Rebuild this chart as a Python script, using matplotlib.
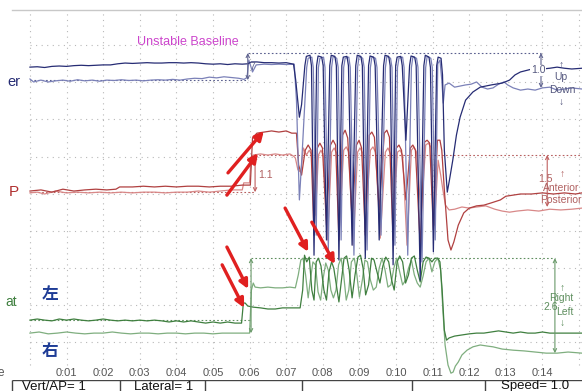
import numpy as np
import matplotlib.pyplot as plt

plt.rcParams['font.family'] = ['Liberation Sans', 'Noto Sans CJK SC', 'DejaVu Sans']

# time in seconds, amplitude in tenths of a grid division
blue_dark = [
    (0.0, 74.1), (0.2, 74.2), (0.4, 74.0), (0.6, 74.3), (0.8, 74.4), (1.0, 74.3), (1.2, 74.5),
    (1.4, 74.6), (1.6, 74.5), (1.8, 74.6), (2.0, 74.7), (2.2, 74.7), (2.4, 75.0), (2.6, 75.2),
    (2.8, 75.1), (3.0, 75.2), (3.2, 75.3), (3.4, 75.2), (3.6, 75.2), (3.8, 75.3), (4.0, 75.3),
    (4.2, 75.2), (4.4, 75.3), (4.6, 75.2), (4.8, 75.0), (5.0, 74.9), (5.2, 75.0), (5.4, 74.8),
    (5.6, 75.0), (5.8, 74.9), (5.95, 75.0), (6.05, 75.5), (6.2, 75.5), (6.4, 75.3), (6.6, 75.3),
    (6.8, 75.2), (7.0, 75.3), (7.2, 74.9),
    (7.26, 70.6), (7.36, 60.6), (7.42, 64.0), (7.51, 74.5), (7.55, 77.0), (7.65, 77.3),
    (7.69, 74.5), (7.76, 23.4), (7.83, 74.5), (7.87, 77.1), (7.97, 76.8), (8.01, 74.5),
    (8.10, 27.5), (8.19, 74.5), (8.23, 77.3), (8.33, 77.0), (8.37, 74.5), (8.44, 22.1),
    (8.52, 74.5), (8.56, 76.8), (8.66, 77.0), (8.70, 74.5), (8.80, 26.1), (8.90, 74.5),
    (8.94, 77.3), (9.04, 77.0), (9.08, 74.5), (9.16, 22.6), (9.25, 74.5), (9.29, 77.1),
    (9.39, 76.8), (9.43, 74.5), (9.54, 27.5), (9.66, 74.5), (9.70, 77.3), (9.80, 77.0),
    (9.84, 74.5), (9.92, 20.8), (9.99, 74.5), (10.03, 76.8), (10.13, 77.0), (10.17, 74.5),
    (10.27, 54.4), (10.37, 74.5), (10.41, 77.1), (10.51, 76.8), (10.55, 74.5), (10.66, 16.7),
    (10.76, 74.5), (10.80, 77.3), (10.90, 76.8), (10.94, 74.0), (11.02, 24.3), (11.11, 74.5),
    (11.15, 76.8), (11.23, 76.5), (11.27, 72.0), (11.32, 51.7), (11.40, 40.4),
    (11.46, 43.7), (11.55, 49.0), (11.65, 55.8), (11.75, 60.6), (11.90, 65.2), (12.10, 67.4),
    (12.30, 68.7), (12.60, 69.3), (12.90, 69.8), (13.10, 70.6), (13.25, 72.0), (13.40, 72.8),
    (13.60, 73.3), (13.80, 73.8), (14.00, 73.6), (14.20, 73.8), (14.40, 74.1), (14.60, 73.8),
    (14.80, 73.6), (15.08, 73.8),
]
blue_light = [
    (0.0, 70.9), (0.1, 70.1), (0.3, 70.6), (0.5, 70.1), (0.7, 70.4), (0.9, 70.6), (1.1, 70.3),
    (1.3, 70.7), (1.5, 70.4), (1.7, 70.6), (1.9, 70.3), (2.1, 70.6), (2.3, 70.5), (2.5, 70.7),
    (2.7, 70.5), (2.9, 70.6), (3.1, 70.4), (3.3, 70.6), (3.5, 70.7), (3.7, 70.6), (3.9, 70.8),
    (4.1, 70.6), (4.3, 70.9), (4.5, 71.1), (4.7, 71.0), (4.9, 71.4), (5.1, 71.2), (5.3, 71.5),
    (5.5, 71.3), (5.7, 71.1), (5.85, 70.8), (5.93, 71.3), (5.98, 76.0), (6.08, 72.8), (6.18, 74.7),
    (6.4, 74.9), (6.6, 74.8), (6.8, 74.9), (7.0, 74.8), (7.22, 74.9),
    (7.28, 65.2), (7.36, 38.3), (7.44, 51.7), (7.56, 74.0), (7.60, 76.5), (7.70, 76.8),
    (7.74, 74.0), (7.82, 28.8), (7.88, 74.0), (7.92, 76.5), (8.02, 76.8), (8.06, 74.0),
    (8.15, 24.8), (8.24, 74.0), (8.28, 77.0), (8.38, 76.5), (8.42, 74.0), (8.50, 27.5),
    (8.57, 74.0), (8.61, 76.5), (8.71, 76.8), (8.75, 74.0), (8.85, 23.4), (8.95, 74.0),
    (8.99, 77.0), (9.09, 76.5), (9.13, 74.0), (9.21, 24.8), (9.30, 74.0), (9.34, 76.8),
    (9.44, 76.5), (9.48, 74.0), (9.59, 28.8), (9.71, 74.0), (9.75, 77.0), (9.85, 76.5),
    (9.89, 74.0), (9.97, 26.1), (10.04, 74.0), (10.08, 76.5), (10.18, 76.8), (10.22, 74.0),
    (10.32, 23.4), (10.42, 74.0), (10.46, 76.8), (10.56, 76.5), (10.60, 74.0), (10.71, 21.6),
    (10.81, 74.0), (10.85, 77.0), (10.95, 76.5), (10.99, 74.0), (11.07, 27.5), (11.14, 75.0),
    (11.20, 76.0), (11.25, 70.6), (11.29, 64.4), (11.34, 69.3),
    (11.45, 69.8), (11.6, 68.7), (11.75, 69.0), (11.9, 69.3), (12.05, 69.5), (12.2, 70.1),
    (12.35, 68.7), (12.5, 68.2), (12.65, 68.5), (12.8, 69.5), (12.95, 70.1), (13.05, 69.3),
    (13.2, 68.5), (13.4, 67.9), (13.6, 68.2), (13.8, 67.9), (14.0, 68.5), (14.2, 68.7),
    (14.4, 67.9), (14.6, 68.2), (14.8, 68.5), (15.08, 68.2),
]
red_dark = [
    (0.0, 40.7), (0.3, 41.0), (0.6, 40.4), (0.9, 41.2), (1.2, 40.7), (1.5, 41.0), (1.8, 41.2),
    (2.1, 41.0), (2.35, 41.2), (2.45, 41.8), (2.8, 41.8), (3.1, 42.0), (3.4, 41.8), (3.7, 42.0),
    (4.0, 41.8), (4.3, 42.0), (4.6, 42.0), (4.9, 41.8), (5.2, 42.0), (5.5, 42.0), (5.8, 42.3),
    (6.02, 42.3), (6.08, 55.0), (6.2, 56.3), (6.4, 56.6), (6.6, 56.9), (6.8, 56.6), (7.0, 56.9),
    (7.15, 56.3), (7.28, 56.3),
    (7.34, 47.7), (7.42, 45.0), (7.52, 51.7), (7.60, 53.1), (7.68, 51.7), (7.76, 28.8),
    (7.85, 52.3), (7.92, 53.6), (7.99, 52.3), (8.10, 31.5), (8.21, 53.1), (8.28, 54.4),
    (8.35, 53.1), (8.44, 27.5), (8.54, 55.8), (8.61, 57.1), (8.68, 55.0), (8.80, 32.9),
    (8.92, 53.1), (8.99, 54.4), (9.06, 52.3), (9.16, 28.8), (9.27, 55.8), (9.34, 56.6),
    (9.41, 55.2), (9.54, 35.6), (9.68, 56.3), (9.75, 57.1), (9.82, 55.2), (9.92, 27.5),
    (10.01, 52.3), (10.08, 53.1), (10.15, 51.7), (10.27, 38.3), (10.39, 52.3), (10.46, 53.1),
    (10.53, 51.7), (10.66, 26.1), (10.78, 53.9), (10.85, 54.4), (10.92, 53.6), (11.02, 30.2),
    (11.13, 54.4), (11.20, 54.4), (11.25, 51.7), (11.32, 41.0), (11.42, 27.5), (11.50, 24.8),
    (11.58, 27.0), (11.70, 31.5), (11.85, 34.8), (12.0, 36.1), (12.2, 36.7), (12.4, 36.9),
    (12.6, 37.5), (12.85, 38.3), (13.0, 39.3), (13.2, 39.6), (13.4, 39.9), (13.7, 39.9),
    (14.0, 40.2), (14.3, 39.9), (14.6, 40.2), (14.9, 39.9), (15.08, 40.2),
]
red_light = [
    (0.0, 40.2), (0.2, 40.4), (0.4, 39.9), (0.7, 40.7), (1.0, 40.2), (1.3, 40.4), (1.6, 40.2),
    (1.9, 40.4), (2.2, 40.2), (2.5, 40.4), (2.8, 40.2), (3.1, 40.4), (3.4, 40.4), (3.7, 40.2),
    (4.0, 40.4), (4.3, 40.4), (4.6, 40.7), (4.9, 40.4), (5.2, 40.7), (5.5, 41.0), (5.8, 41.0),
    (5.84, 42.9), (6.0, 42.9), (6.04, 49.9), (6.10, 50.4), (6.3, 50.7), (6.5, 50.4), (6.7, 50.7),
    (6.9, 50.4), (7.1, 50.7), (7.2, 50.1),
    (7.25, 49.6), (7.32, 46.4), (7.40, 45.8), (7.47, 52.3), (7.55, 50.4), (7.63, 51.7),
    (7.70, 50.4), (7.80, 34.2), (7.88, 50.4), (7.95, 51.7), (8.02, 50.1), (8.13, 27.5),
    (8.24, 51.2), (8.31, 52.3), (8.38, 50.9), (8.48, 35.6), (8.57, 51.7), (8.64, 52.6),
    (8.71, 51.2), (8.83, 26.1), (8.95, 51.2), (9.02, 52.3), (9.09, 50.9), (9.19, 35.6),
    (9.30, 51.7), (9.37, 52.6), (9.44, 51.2), (9.57, 28.0), (9.71, 51.2), (9.78, 52.3),
    (9.85, 50.7), (9.95, 36.9), (10.04, 51.2), (10.11, 51.7), (10.18, 50.4), (10.30, 26.1),
    (10.42, 51.7), (10.49, 52.6), (10.56, 51.2), (10.69, 34.2), (10.81, 53.1), (10.88, 53.6),
    (10.95, 52.6), (11.05, 31.5), (11.15, 49.0), (11.22, 45.0), (11.28, 41.0), (11.35, 36.9),
    (11.45, 35.6), (11.6, 35.8), (11.8, 36.4), (12.0, 36.1), (12.2, 36.4), (12.45, 36.7),
    (12.7, 35.8), (12.9, 35.3), (13.1, 35.0), (13.3, 35.3), (13.6, 35.6), (13.9, 35.3),
    (14.2, 35.8), (14.5, 35.6), (14.8, 35.8), (15.08, 36.1),
]
green_dark = [
    (0.0, 5.9), (0.2, 6.2), (0.4, 5.9), (0.6, 5.7), (0.8, 6.2), (1.0, 5.9), (1.2, 6.2), (1.4, 5.9),
    (1.6, 5.7), (1.8, 5.9), (2.0, 6.2), (2.2, 5.9), (2.4, 5.7), (2.6, 5.9), (2.8, 5.7), (3.0, 5.9),
    (3.2, 5.7), (3.4, 5.9), (3.6, 5.7), (3.8, 5.4), (4.0, 5.7), (4.2, 5.4), (4.4, 5.7), (4.6, 5.4),
    (4.8, 5.1), (5.0, 5.4), (5.2, 5.1), (5.4, 5.4), (5.6, 5.1), (5.78, 5.1), (5.83, 10.5),
    (5.88, 10.5), (5.95, 9.7), (6.1, 9.4), (6.3, 9.2), (6.5, 8.9), (6.7, 8.9), (6.9, 9.2),
    (7.1, 9.2), (7.3, 9.2), (7.38, 9.2),
    (7.45, 14.0), (7.50, 23.4), (7.56, 21.6), (7.63, 22.9), (7.70, 14.0), (7.76, 11.3),
    (7.82, 21.6), (7.88, 22.6), (7.95, 20.5), (8.03, 14.0), (8.10, 11.3), (8.17, 18.9),
    (8.24, 21.6), (8.30, 19.9), (8.37, 15.4), (8.44, 10.8), (8.51, 16.7), (8.58, 22.6),
    (8.65, 23.2), (8.72, 19.4), (8.80, 11.9), (8.88, 18.1), (8.96, 22.9), (9.03, 23.4),
    (9.10, 19.9), (9.17, 12.7), (9.25, 15.4), (9.33, 22.6), (9.40, 22.1), (9.48, 18.9),
    (9.56, 15.9), (9.64, 20.5), (9.72, 22.9), (9.80, 21.6), (9.88, 16.7), (9.95, 14.0),
    (10.03, 21.6), (10.10, 23.2), (10.18, 21.6), (10.26, 15.9), (10.34, 18.1), (10.42, 22.6),
    (10.50, 23.2), (10.58, 19.4), (10.66, 16.2), (10.74, 21.6), (10.82, 22.9), (10.90, 22.6),
    (10.98, 21.6), (11.06, 22.6), (11.14, 22.6), (11.20, 21.6), (11.26, 14.0), (11.32, 3.2),
    (11.38, 0.5), (11.45, 1.1), (11.6, 1.6), (11.8, 1.9), (12.0, 2.2), (12.2, 2.4), (12.4, 2.4),
    (12.6, 2.7), (12.8, 3.0), (13.0, 2.7), (13.2, 2.4), (13.4, 2.7), (13.6, 2.4), (13.8, 2.4),
    (14.0, 2.7), (14.2, 2.4), (14.5, 2.4), (14.8, 2.4), (15.08, 2.4),
]
green_light = [
    (0.0, 2.4), (0.25, 2.7), (0.5, 2.2), (0.75, 2.4), (1.0, 2.7), (1.25, 2.4), (1.5, 2.2),
    (1.75, 2.4), (2.0, 2.4), (2.25, 2.7), (2.5, 2.4), (2.75, 2.2), (3.0, 2.4), (3.25, 2.4),
    (3.5, 2.2), (3.75, 2.4), (4.0, 2.4), (4.25, 2.2), (4.5, 2.4), (4.75, 2.4), (5.0, 2.2),
    (5.25, 2.4), (5.5, 2.4), (5.75, 2.4), (6.0, 2.4), (6.05, 14.0), (6.1, 15.9), (6.15, 14.8),
    (6.3, 14.6), (6.5, 14.8), (6.7, 14.6), (6.9, 14.6), (7.1, 14.8), (7.25, 14.6),
    (7.33, 18.1), (7.40, 22.1), (7.46, 22.6), (7.53, 18.1), (7.60, 11.9), (7.66, 16.7),
    (7.73, 21.6), (7.80, 20.8), (7.87, 13.5), (7.94, 11.3), (8.01, 17.2), (8.08, 21.3),
    (8.15, 19.4), (8.22, 14.0), (8.29, 11.9), (8.36, 14.0), (8.43, 20.8), (8.50, 22.6),
    (8.57, 18.1), (8.64, 11.3), (8.71, 14.0), (8.78, 21.6), (8.86, 22.6), (8.93, 18.1),
    (9.00, 12.1), (9.08, 16.7), (9.15, 22.1), (9.22, 21.6), (9.30, 16.7), (9.38, 14.0),
    (9.46, 14.8), (9.54, 19.9), (9.62, 22.6), (9.70, 19.4), (9.78, 14.8), (9.86, 15.4),
    (9.94, 19.9), (10.02, 22.6), (10.10, 18.9), (10.18, 15.4), (10.26, 16.7), (10.34, 19.9),
    (10.42, 22.1), (10.50, 18.1), (10.58, 15.9), (10.66, 14.8), (10.74, 17.8), (10.82, 21.6),
    (10.90, 22.6), (10.98, 18.9), (11.06, 21.6), (11.14, 22.6), (11.22, 19.4), (11.28, 8.6),
    (11.34, -0.8), (11.42, -6.2), (11.50, -8.4), (11.56, -8.1), (11.62, -6.5), (11.70, -5.4),
    (11.80, -3.5), (11.94, -2.2), (12.1, -1.3), (12.3, -0.8), (12.5, -1.1), (12.65, -1.3),
    (12.9, -1.9), (13.2, -2.2), (13.5, -2.4), (13.8, -2.7), (14.1, -3.0), (14.4, -3.0),
    (14.7, -2.7), (15.08, -3.0),
]

# dotted reference levels: (value, start, end)
blue_refs = [(70.6, 0.0, 5.95), (77.9, 5.95, 13.96)]
red_refs = [(40.4, 0.0, 6.15), (50.4, 6.15, 15.08)]
green_refs = [(5.9, 0.0, 6.04), (22.6, 6.04, 14.34)]

# measurement brackets: (time, low, high)
blue_brackets = [(5.95, 70.6, 77.9), (13.96, 68.5, 77.9)]
red_brackets = [(6.15, 40.4, 50.4), (14.13, 36.4, 50.4)]
green_brackets = [(6.04, 2.4, 22.6), (14.34, -3.0, 22.6)]

# red pointer arrows: (tail, head)
pointers = [
    ((5.41, 45.6), (6.39, 56.9)),
    ((5.38, 39.6), (6.23, 50.9)),
    ((5.38, 25.6), (5.96, 14.3)),
    ((5.25, 20.8), (5.85, 9.2)),
    ((6.97, 36.1), (7.60, 24.3)),
    ((7.70, 32.3), (8.33, 21.0)),
]

seconds = list(range(0, 16))
time_labels = ['0:%02d' % s for s in range(1, 15)]
rows = [0, 10, 20, 30, 40, 50, 60, 70, 80]

status_cells = [('Vert/AP= 1', 12, 120, 54), ('Lateral= 1', 120, 205, 164), ('', 205, 302, 0),
                ('', 302, 412, 0), ('', 412, 485, 0), ('Speed= 1.0', 485, 582, 535)]

fig = plt.figure(figsize=(5.82, 3.91), dpi=100)
fig.patch.set_facecolor('white')
ax = fig.add_axes([12 / 582, 13 / 391, 570 / 582, 368 / 391])
ax.set_xlim(-0.49, 15.08)
ax.set_ylim(-9.7, 89.5)
ax.set_xticks([])
ax.set_yticks([])
for s in ['left', 'right', 'bottom']:
    ax.spines[s].set_visible(False)
ax.spines['top'].set_color('#c8c8c8')
ax.spines['top'].set_linewidth(1.0)

# grid
ax.vlines(seconds, -6.2, 89.5, colors='#b8b8b8', linewidth=0.8, linestyles=(0, (1, 4)), zorder=0)
ax.hlines(rows, 0, 15.08, colors='#b8b8b8', linewidth=0.8, linestyles=(0, (1, 4)), zorder=0)

# reference lines
for refs, col in [(blue_refs, '#5a5f8f'), (red_refs, '#b86060'), (green_refs, '#5f8f5f')]:
    for v, a, b in refs:
        ax.hlines(v, a, b, colors=col, linewidth=0.8, linestyles=(0, (1.5, 2)), zorder=1)

# traces
traces = [
    (green_light, '#7fae7f'), (green_dark, '#3f7f3f'),
    (red_light, '#d88888'), (red_dark, '#b04040'),
    (blue_light, '#7b81b8'), (blue_dark, '#262c74'),
]
for data, col in traces:
    arr = np.array(data)
    ax.plot(arr[:, 0], arr[:, 1], color=col, linewidth=0.9, zorder=2)

# brackets
for brs, col in [(blue_brackets, '#60648f'), (red_brackets, '#c06060'), (green_brackets, '#6a9a6a')]:
    for t, lo, hi in brs:
        ax.annotate('', xy=(t, hi), xytext=(t, lo),
                    arrowprops=dict(arrowstyle='<->', color=col, lw=0.8, mutation_scale=6,
                                    shrinkA=0, shrinkB=0), zorder=3)

lab = dict(fontsize=7.5, zorder=4)
ax.text(6.0, 74.0, '7', color='#60648f', ha='left', va='center', **lab)
ax.text(6.24, 45.0, '1.1', color='#b06060', ha='left', va='center', **lab)
ax.text(13.88, 73.3, '1.0', color='#55587f', ha='center', va='center',
        bbox=dict(fc='white', ec='none', pad=0.3), **lab)
ax.text(14.5, 74.6, '\u2191', color='#55587f', ha='center', va='center', **lab)
ax.text(14.5, 71.4, 'Up', color='#55587f', ha='center', va='center', **lab)
ax.text(14.55, 67.9, 'Down', color='#55587f', ha='center', va='center', **lab)
ax.text(14.5, 64.6, '\u2193', color='#55587f', ha='center', va='center', **lab)
ax.text(14.08, 43.9, '1.5', color='#b06060', ha='center', va='center', **lab)
ax.text(14.55, 45.2, '\u2191', color='#b06060', ha='center', va='center', **lab)
ax.text(14.5, 41.5, 'Anterior', color='#b06060', ha='center', va='center', **lab)
ax.text(14.5, 38.3, 'Posterior', color='#b06060', ha='center', va='center', **lab)
ax.text(14.55, 14.6, '\u2191', color='#5f8f5f', ha='center', va='center', **lab)
ax.text(14.52, 11.9, 'Right', color='#5f8f5f', ha='center', va='center', **lab)
ax.text(14.22, 9.4, '2.6', color='#5f8f5f', ha='center', va='center', **lab)
ax.text(14.62, 8.2, 'Left', color='#5f8f5f', ha='center', va='center', **lab)
ax.text(14.55, 5.2, '\u2193', color='#5f8f5f', ha='center', va='center', **lab)

# pointer arrows
for tail, head in pointers:
    ax.annotate('', xy=head, xytext=tail,
                arrowprops=dict(arrowstyle='-|>', color='#e02020', lw=2.4, mutation_scale=13,
                                shrinkA=0, shrinkB=0), zorder=5)

# titles and labels
ax.text(4.32, 80.9, 'Unstable Baseline', color='#cc44cc', fontsize=9, ha='center', va='center')
ax.text(-0.27, 70.1, 'er', color='#262c74', fontsize=10.5, ha='right', va='center')
ax.text(-0.30, 40.4, 'P', color='#b03030', fontsize=11, ha='right', va='center')
ax.text(-0.36, 10.8, 'at', color='#3f7f3f', fontsize=10, ha='right', va='center')
ax.text(-0.70, -8.4, 'e', color='#555555', fontsize=8.5, ha='right', va='center')
ax.text(0.55, 12.9, '\u5de6', color='#1e3c96', fontsize=12, fontweight='bold',
        ha='center', va='center', family=['Noto Sans CJK SC'])
ax.text(0.55, -2.4, '\u53f3', color='#1e3c96', fontsize=12, fontweight='bold',
        ha='center', va='center', family=['Noto Sans CJK SC'])
for s, txt in zip(range(1, 15), time_labels):
    ax.text(s, -8.4, txt, color='#555555', fontsize=8, ha='center', va='center')

# status bar
sb = fig.add_axes([0, 0, 1, 11 / 391])
sb.set_xlim(0, 582)
sb.set_ylim(0, 11)
sb.axis('off')
sb.hlines(11, 12, 582, colors='#444444', linewidth=1.0)
for txt, a, b, c in status_cells:
    sb.vlines(a, 0, 11, colors='#444444', linewidth=1.0)
    if txt:
        sb.text(c, 10.5, txt, fontsize=9.5, ha='center', va='top', color='#111111')

fig.savefig('out.png', dpi=100)
